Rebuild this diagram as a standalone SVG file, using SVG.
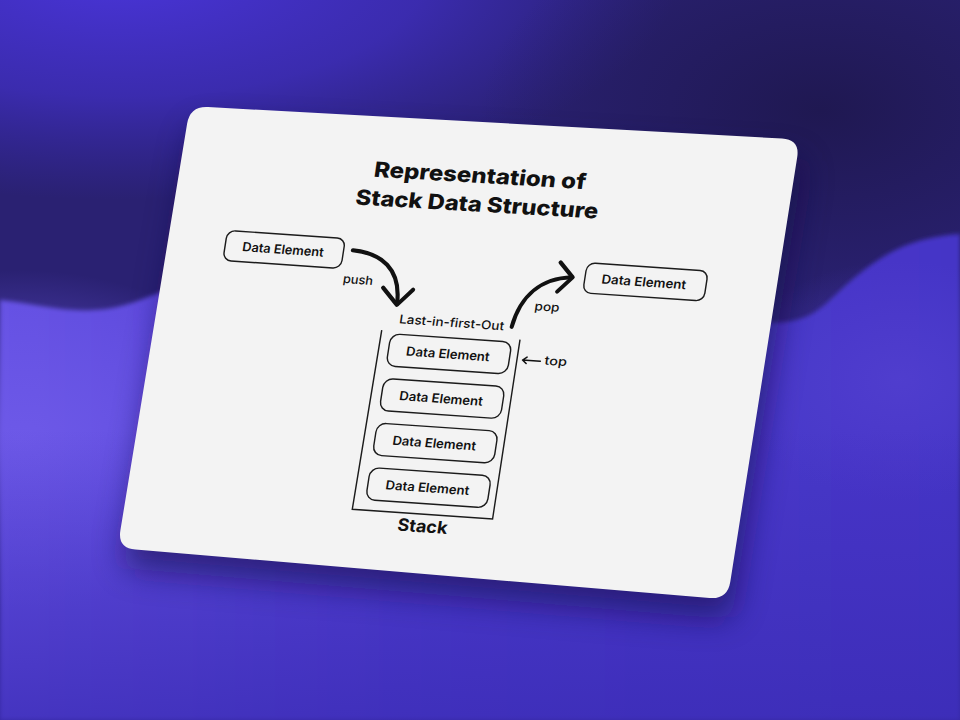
<svg xmlns="http://www.w3.org/2000/svg" width="960" height="720" viewBox="0 0 960 720">
<defs>
<radialGradient id="glowTL" cx="0.5" cy="0.5" r="0.5">
<stop offset="0" stop-color="#4a35da" stop-opacity="1"/>
<stop offset="0.55" stop-color="#4230c8" stop-opacity="0.7"/>
<stop offset="1" stop-color="#3a2bb8" stop-opacity="0"/>
</radialGradient>
<radialGradient id="darkTR" cx="0.5" cy="0.5" r="0.5">
<stop offset="0" stop-color="#1e174e" stop-opacity="0.9"/>
<stop offset="1" stop-color="#1e174e" stop-opacity="0"/>
</radialGradient>
<linearGradient id="waveFill" x1="0" y1="0" x2="1" y2="0">
<stop offset="0" stop-color="#6551e3"/>
<stop offset="0.45" stop-color="#4e3cd0"/>
<stop offset="1" stop-color="#4535c6"/>
</linearGradient>
<linearGradient id="bottomShade" x1="0" y1="0" x2="0" y2="1">
<stop offset="0" stop-color="#3a2bb4" stop-opacity="0"/>
<stop offset="1" stop-color="#3a2bb4" stop-opacity="0.75"/>
</linearGradient>
<radialGradient id="brightL" cx="0.5" cy="0.5" r="0.5">
<stop offset="0" stop-color="#6e5ae8" stop-opacity="0.9"/>
<stop offset="1" stop-color="#6e5ae8" stop-opacity="0"/>
</radialGradient>
<radialGradient id="patchR" cx="0.5" cy="0.5" r="0.5">
<stop offset="0" stop-color="#5543d2" stop-opacity="0.6"/>
<stop offset="1" stop-color="#5543d2" stop-opacity="0"/>
</radialGradient>
<filter id="soft" x="-10%" y="-10%" width="120%" height="120%">
<feGaussianBlur stdDeviation="2"/>
</filter>
<filter id="shadow" x="-20%" y="-20%" width="140%" height="150%">
<feGaussianBlur stdDeviation="16"/>
</filter>
<style>
.box { fill: none; stroke: #1b1b1b; stroke-width: 1.4; }
.t { font-family: Inter, "Noto Sans", "Liberation Sans", sans-serif; fill: #111; text-anchor: middle; }
.de { font-size: 12.5px; font-weight: 600; }
.title { font-size: 21px; font-weight: 800; }
.small { font-size: 12px; font-weight: 500; }
.stk { font-size: 17px; font-weight: 700; }
.thick { fill: none; stroke: #111; stroke-width: 4; stroke-linecap: round; stroke-linejoin: round; }
.thin { fill: none; stroke: #111; stroke-width: 1.5; stroke-linecap: round; stroke-linejoin: round; }
.line { fill: none; stroke: #1b1b1b; stroke-width: 1.4; }
</style>
</defs>

<!-- background -->
<rect x="0" y="0" width="960" height="720" fill="#2a2172"/>
<ellipse cx="120" cy="-30" rx="560" ry="230" fill="url(#glowTL)"/>
<ellipse cx="820" cy="110" rx="340" ry="200" fill="url(#darkTR)"/>
<path d="M0,300 C40,304 80,318 125,305 C170,292 200,268 260,262 L700,300 C760,330 800,330 830,300 C870,262 900,238 960,234 L960,720 L0,720 Z" fill="url(#waveFill)" filter="url(#soft)"/>
<ellipse cx="20" cy="440" rx="260" ry="170" fill="url(#brightL)"/>
<ellipse cx="900" cy="380" rx="170" ry="120" fill="url(#patchR)"/>
<rect x="0" y="430" width="960" height="290" fill="url(#bottomShade)"/>

<!-- card -->
<path d="M207.97,106.99 L782.03,138.51 Q800,139.5 797.2,157.28 L730.3,581.72 Q727.5,599.5 709.56,597.99 L135.44,549.51 Q117.5,548 120.41,530.24 L187.09,123.76 Q190,106 207.97,106.99 Z" fill="#140c48" opacity="0.6" transform="translate(4,20)" filter="url(#shadow)"/>
<g id="card">
<path d="M207.97,106.99 L782.03,138.51 Q800,139.5 797.2,157.28 L730.3,581.72 Q727.5,599.5 709.56,597.99 L135.44,549.51 Q117.5,548 120.41,530.24 L187.09,123.76 Q190,106 207.97,106.99 Z" fill="#f3f3f3"/>
</g>

<g transform="matrix(1.0167,0.07,-0.1533,1.002,186.5,102)">
<g id="title" transform="rotate(-0.6 297 75)">
<text class="t title" x="297" y="60" textLength="208" lengthAdjust="spacingAndGlyphs">Representation of</text>
<text class="t title" x="298" y="88.5" textLength="238" lengthAdjust="spacingAndGlyphs">Stack Data Structure</text>
</g>

<g id="node-input">
<rect class="box" x="59" y="124" width="116" height="30" rx="8"/>
<text class="t de" x="116" y="143.5" textLength="80" lengthAdjust="spacingAndGlyphs">Data Element</text>
</g>

<g id="node-output">
<rect class="box" x="414" y="131.5" width="119" height="30" rx="8"/>
<text class="t de" x="472" y="151" textLength="83" lengthAdjust="spacingAndGlyphs">Data Element</text>
</g>

<g id="stack">
<path class="line" d="M224,212 L222,391 L360,391 L360,212"/>
<text class="t small" x="291" y="204" textLength="103" lengthAdjust="spacingAndGlyphs">Last-in-first-Out</text>
<text class="t stk" x="293" y="409" textLength="49" lengthAdjust="spacingAndGlyphs">Stack</text>
</g>

<g id="stack-item-1">
<rect class="box" x="233.5" y="215" width="119" height="32" rx="9"/>
<text class="t de" x="292" y="235.5" textLength="82" lengthAdjust="spacingAndGlyphs">Data Element</text>
</g>
<g id="stack-item-2">
<rect class="box" x="233.5" y="259.5" width="119" height="32" rx="9"/>
<text class="t de" x="292" y="280" textLength="82" lengthAdjust="spacingAndGlyphs">Data Element</text>
</g>
<g id="stack-item-3">
<rect class="box" x="233.5" y="304" width="119" height="32" rx="9"/>
<text class="t de" x="292" y="324.5" textLength="82" lengthAdjust="spacingAndGlyphs">Data Element</text>
</g>
<g id="stack-item-4">
<rect class="box" x="233.5" y="348.5" width="119" height="32" rx="9"/>
<text class="t de" x="292" y="369" textLength="82" lengthAdjust="spacingAndGlyphs">Data Element</text>
</g>

<g id="connectors">
<path class="thick" d="M184,135 C212,136 234,150 235,185"/>
<path class="thick" d="M219,170 L235,186 L248.5,170"/>
<text class="t small" x="193.5" y="168" textLength="29.5" lengthAdjust="spacingAndGlyphs">push</text>
<path class="thick" d="M350,200 C354,168 372,150 401,147"/>
<path class="thick" d="M388,133 L402,147 L389,162"/>
<text class="t small" x="381.5" y="182" textLength="24.5" lengthAdjust="spacingAndGlyphs">pop</text>
<path class="thin" d="M383,232 L365.5,232 M369.5,228.8 L365.5,232 L369.5,235.2"/>
<text class="t small" x="398" y="235" textLength="22" lengthAdjust="spacingAndGlyphs">top</text>
</g>
</g>
</svg>
